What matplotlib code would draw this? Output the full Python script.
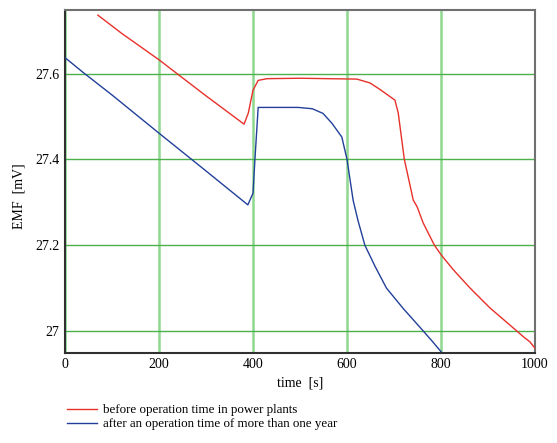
import matplotlib
matplotlib.use("Agg")
import matplotlib.pyplot as plt
from matplotlib.lines import Line2D

plt.rcParams['font.family'] = ['Liberation Serif', 'DejaVu Serif']

# before operation time in power plants (red)
t_before = [70, 120, 200, 238, 300, 381, 390, 400, 411, 430, 500, 560, 621, 649, 670, 702,
            709, 722, 741, 749, 762, 786, 800, 826, 862, 904, 954, 975, 989, 1000]
emf_before = [27.736, 27.694, 27.632, 27.600, 27.548, 27.482, 27.508, 27.561, 27.584, 27.588,
              27.589, 27.588, 27.587, 27.578, 27.563, 27.538,
              27.508, 27.400, 27.305, 27.290, 27.252, 27.200, 27.178, 27.143, 27.100,
              27.054, 27.007, 26.987, 26.975, 26.960]

# after an operation time of more than one year (blue)
t_after = [0, 38, 100, 200, 300, 389, 400, 404, 411, 450, 496, 526, 549, 568, 589, 600,
           613, 623, 638, 660, 684, 720, 755, 780, 800]
emf_after = [27.637, 27.603, 27.550, 27.461, 27.373, 27.294, 27.321, 27.398, 27.521, 27.521,
             27.521, 27.518, 27.507, 27.484, 27.452, 27.400,
             27.305, 27.259, 27.200, 27.150, 27.100, 27.052, 27.009, 26.978, 26.952]

xticks = [0, 200, 400, 600, 800, 1000]
yticks = [27.0, 27.2, 27.4, 27.6]
ytick_labels = ["27", "27.2", "27.4", "27.6"]

fig = plt.figure(figsize=(5.57, 4.43), dpi=100)
ax = fig.add_axes([65 / 557, 1 - 352.5 / 443, 470 / 557, 342.5 / 443])

for x in xticks:
    ax.axvline(x, color='#8fd88f', lw=1.8, zorder=1)
for y in yticks:
    ax.axhline(y, color='#4cb04c', lw=1.0, zorder=1)

ax.plot(t_before, emf_before, color='#e8302a', lw=1.0, zorder=3)
ax.plot(t_after, emf_after, color='#22409a', lw=1.0, zorder=3)

ax.set_xlim(0, 1000)
ax.set_ylim(26.95, 27.748)
ax.set_xticks(xticks)
ax.set_xticklabels([str(v) for v in xticks])
ax.set_yticks(yticks)
ax.set_yticklabels(ytick_labels)
ax.tick_params(length=0, labelsize=10)
ax.tick_params(axis='x', pad=4)
ax.tick_params(axis='y', pad=4)

for side in ['left', 'bottom']:
    ax.spines[side].set_color('#303030')
    ax.spines[side].set_linewidth(1.5)
for side in ['top', 'right']:
    ax.spines[side].set_color('#707070')
    ax.spines[side].set_linewidth(1.5)

ax.set_xlabel("time  [s]", fontsize=10)
ax.xaxis.set_label_coords(0.5, (352.5 - 383) / 342.5, transform=ax.transAxes)
ax.xaxis.label.set_va('center')
ax.set_ylabel("EMF  [mV]", fontsize=10)
ax.yaxis.set_label_coords((19 - 65) / 470, (352.5 - 196) / 342.5, transform=ax.transAxes)
ax.yaxis.label.set_va('center')

handles = [Line2D([], [], color='#e8302a', lw=1.0),
           Line2D([], [], color='#22409a', lw=1.0)]
fig.legend(handles,
           ["before operation time in power plants",
            "after an operation time of more than one year"],
           loc='upper left', bbox_to_anchor=(67 / 557, 1 - 404 / 443),
           frameon=False, fontsize=9.4, handlelength=2.3, handletextpad=0.45,
           labelspacing=0.15, borderpad=0, borderaxespad=0)

fig.savefig("out.png", dpi=100)
